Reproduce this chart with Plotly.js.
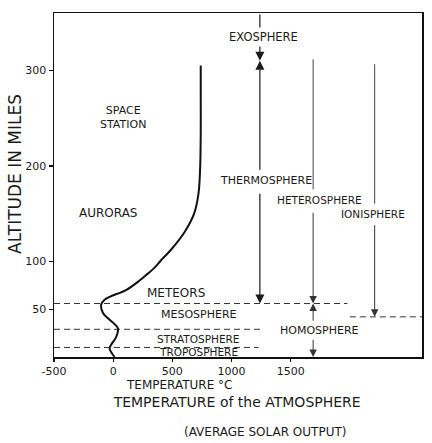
<!DOCTYPE html>
<html>
<head>
<meta charset="utf-8">
<script src="https://cdn.plot.ly/plotly-3.0.1.min.js"></script>
<style>html,body{margin:0;padding:0;background:#fff;}#chart{width:432px;height:443px;}</style>
</head>
<body>
<div id="chart"></div>
<script>
// Temperature profile (altitude in miles, temperature in °C)
const curveAltitude = [0, 5, 9, 13, 21, 30, 39, 46, 55, 60, 63, 70, 80, 87, 93, 101, 112, 130, 150, 171, 198, 234, 269, 305];
const curveTemperature = [12, -16, -30, -16, 26, 40, -30, -86, -101, -72, -30, 108, 223, 290, 346, 403, 487, 600, 684, 721, 735, 740, 740, 740];

// Layer boundaries (miles)
const tropopauseAlt = 10;
const stratopauseAlt = 29;
const mesopauseAlt = 56;
const thermopauseAlt = 310;
const ionosphereBaseAlt = 42;
const chartTopAlt = 360;
const heterosphereTopAlt = 313;
const ionosphereTopAlt = 308;

// Dashed boundary extents (°C)
const tropopauseSpan = [-500, 1230];
const stratopauseSpan = [-500, 1255];
const mesopauseSpan = [-500, 1980];
const ionosphereBaseSpan = [2000, 2610];

// Vertical region markers (°C)
const exosphereTemp = 1240;
const heterosphereTemp = 1690;
const ionosphereTemp = 2210;

// Label altitudes for the region markers (miles)
const thermosphereLabelAlt = 185;
const heterosphereLabelAlt = 164;
const ionosphereLabelAlt = 150;
const homosphereLabelAlt = 28;

// Axis ticks
const xTickValues = [-500, 0, 500, 1000, 1500];
const xTickLabels = ['-500', '0', '500', '1000', '1500'];
const yTickValues = [50, 100, 200, 300];
const yTickLabels = ['50', '100', '200', '300'];

const FONT = 'DejaVu Sans, Liberation Sans, sans-serif';
const INK = '#1a1a1a';

const dashStyle = {color: '#333', width: 1, dash: '6px,4px'};
function hLine(span, alt) {
  return {x: span, y: [alt, alt], mode: 'lines', line: dashStyle, hoverinfo: 'skip', type: 'scatter'};
}

const traces = [
  hLine(tropopauseSpan, tropopauseAlt),
  hLine(stratopauseSpan, stratopauseAlt),
  hLine(mesopauseSpan, mesopauseAlt),
  hLine(ionosphereBaseSpan, ionosphereBaseAlt),
  {
    x: curveTemperature, y: curveAltitude, mode: 'lines', type: 'scatter',
    line: {color: '#111', width: 2, shape: 'spline', smoothing: 1.0}, hoverinfo: 'skip'
  }
];

function arrow(xv, tipAlt, tailAlt, opts) {
  return Object.assign({
    x: xv, y: tipAlt, ax: xv, ay: tailAlt,
    xref: 'x', yref: 'y', axref: 'x', ayref: 'y',
    text: '', showarrow: true, arrowhead: 2, arrowsize: 1.5, arrowwidth: 1.2,
    arrowcolor: INK, standoff: 0, startstandoff: 0
  }, opts || {});
}

function label(text, xv, yv, size, extra) {
  return Object.assign({
    x: xv, y: yv, xref: 'x', yref: 'y', text: text, showarrow: false,
    font: {family: FONT, size: size, color: INK}, xanchor: 'center', yanchor: 'middle'
  }, extra || {});
}

const annotations = [
  // arrows
  arrow(exosphereTemp, thermopauseAlt, chartTopAlt),
  arrow(exosphereTemp, thermopauseAlt, thermosphereLabelAlt, {startstandoff: 9}),
  arrow(exosphereTemp, mesopauseAlt, thermosphereLabelAlt, {startstandoff: 12}),
  arrow(heterosphereTemp, heterosphereLabelAlt, heterosphereTopAlt, {arrowhead: 0, standoff: 11, arrowwidth: 1, arrowcolor: '#444'}),
  arrow(heterosphereTemp, mesopauseAlt, heterosphereLabelAlt, {startstandoff: 11, arrowwidth: 1, arrowcolor: '#333'}),
  arrow(heterosphereTemp, mesopauseAlt, homosphereLabelAlt, {startstandoff: 8, arrowwidth: 1, arrowcolor: '#333'}),
  arrow(heterosphereTemp, 0, homosphereLabelAlt, {startstandoff: 8, arrowwidth: 1, arrowcolor: '#333'}),
  arrow(ionosphereTemp, ionosphereLabelAlt, ionosphereTopAlt, {arrowhead: 0, standoff: 10, arrowwidth: 1, arrowcolor: '#444'}),
  arrow(ionosphereTemp, ionosphereBaseAlt, ionosphereLabelAlt, {startstandoff: 10, arrowwidth: 1, arrowcolor: '#333'}),
  // region labels
  label('EXOSPHERE', 1272, 335, 11.5, {bgcolor: '#fff', borderpad: 2}),
  label('THERMOSPHERE', 1289, thermosphereLabelAlt, 11),
  label('HETEROSPHERE', 1745, heterosphereLabelAlt, 10.5),
  label('IONISPHERE', 2192, ionosphereLabelAlt, 10.5),
  label('HOMOSPHERE', 1745, homosphereLabelAlt, 11),
  label('METEORS', 530, 67, 12),
  label('MESOSPHERE', 724, 44, 11),
  label('STRATOSPHERE', 715, 19, 10.5),
  label('TROPOSPHERE', 724, 5, 10.5),
  label('SPACE<br>STATION', 82, 251, 11),
  label('AURORAS', -44, 151, 12),
  // axis titles and subtitle
  {x: 0.34, y: -0.081, xref: 'paper', yref: 'paper', text: 'TEMPERATURE °C', showarrow: false,
   font: {family: FONT, size: 12, color: INK}, xanchor: 'center', yanchor: 'middle'},
  {x: -0.106, y: 0.532, xref: 'paper', yref: 'paper', text: 'ALTITUDE IN MILES', showarrow: false, textangle: -90,
   font: {family: FONT, size: 17, color: INK}, xanchor: 'center', yanchor: 'middle'},
  {x: 0.5734, y: -0.218, xref: 'paper', yref: 'paper', text: '(AVERAGE SOLAR OUTPUT)', showarrow: false,
   font: {family: FONT, size: 12, color: INK}, xanchor: 'center', yanchor: 'middle'}
];

const axisBase = {
  showgrid: false, zeroline: false, showline: true, mirror: true,
  linecolor: '#111', linewidth: 1.5, ticks: 'outside', tickcolor: '#111', tickwidth: 1.3,
  tickfont: {family: FONT, size: 11, color: INK}, fixedrange: true
};

const layout = {
  width: 432, height: 443,
  margin: {l: 54, r: 10, t: 13, b: 86},
  paper_bgcolor: '#fff', plot_bgcolor: '#fff',
  showlegend: false,
  title: {
    text: 'TEMPERATURE of the ATMOSPHERE',
    x: 0.549, xref: 'container', xanchor: 'center',
    y: 0.0926, yref: 'container', yanchor: 'middle',
    font: {family: FONT, size: 14, color: INK}
  },
  xaxis: Object.assign({}, axisBase, {range: [-500, 2610], tickvals: xTickValues, ticktext: xTickLabels, ticklen: 3}),
  yaxis: Object.assign({}, axisBase, {range: [0, 360], tickvals: yTickValues, ticktext: yTickLabels, ticklen: 4}),
  annotations: annotations
};

Plotly.newPlot('chart', traces, layout, {staticPlot: true, displayModeBar: false});
</script>
</body>
</html>
